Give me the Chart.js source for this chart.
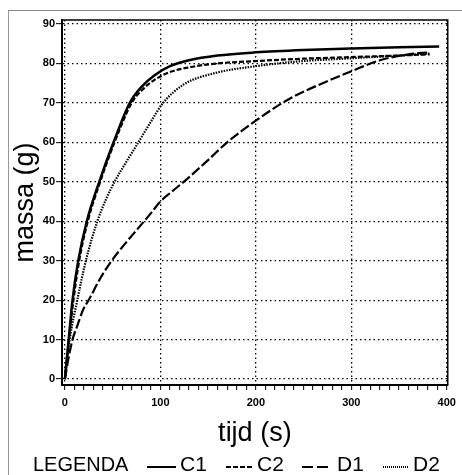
<!DOCTYPE html>
<html>
<head>
<meta charset="utf-8">
<script src="https://cdn.jsdelivr.net/npm/chart.js@4.4.1/dist/chart.umd.min.js"></script>
<style>
html,body{margin:0;padding:0;background:#fff}
#wrap{position:relative;width:462px;height:475px;overflow:hidden}
#frame{position:absolute;left:8px;top:10px;width:460px;height:470px;border-left:1px solid #999;border-top:1px solid #888}
canvas{position:absolute;left:0;top:0}
</style>
</head>
<body>
<div id="wrap"><div id="frame"></div><canvas id="chart" width="462" height="475"></canvas></div>
<script>
// Data (time in s, mass in g)
const seriesNames = ['C1', 'C2', 'D1', 'D2'];

const c1Time = [0, 2, 4, 8, 14, 23, 36, 51, 68, 80, 94, 110, 130, 160, 200, 250, 300, 350, 392];
const c1Mass = [0, 5, 10, 20, 30, 40, 50, 60, 70, 74, 77, 79.3, 80.8, 82, 82.8, 83.4, 83.8, 84.1, 84.3];

const c2Time = [0, 4, 9, 15, 24, 37, 52, 70, 82, 95, 110, 130, 160, 200, 250, 300, 350, 382];
const c2Mass = [0, 9.5, 20, 30, 40, 50, 60, 70, 73.5, 76, 77.8, 79, 80, 80.6, 81.2, 81.6, 82, 82.3];

const d1Time = [0, 4, 8, 13, 19, 26, 37, 49, 62, 76, 90, 100, 112, 126, 150, 170, 200, 235, 270, 300, 330, 360, 381];
const d1Mass = [0, 5.5, 10, 13.5, 17.5, 20.5, 25.5, 30, 34, 38, 42, 45, 47.5, 50.3, 55.5, 60, 65.5, 71, 75, 78, 80.8, 82.3, 82.8];

const d2Time = [0, 5, 13, 22, 34, 43, 52, 65, 77, 89, 103, 124, 158, 200, 245, 300, 350, 383];
const d2Mass = [0, 10, 20, 30, 40, 45.5, 50, 55.3, 60, 64.8, 70, 74.6, 77.6, 79.3, 80.5, 81.3, 82, 82.5];

const xTicks = [0, 100, 200, 300, 400];
const yTicks = [0, 10, 20, 30, 40, 50, 60, 70, 80, 90];

function pts(t, m){ return t.map((x, i) => ({x: x, y: m[i]})); }

const styles = [
  {dash: [], width: 2.5, legendDash: []},
  {dash: [5, 2], width: 2.2, legendDash: [5, 2]},
  {dash: [10, 3], width: 2.2, legendDash: [11, 4]},
  {dash: [1.5, 1.2], width: 2.2, legendDash: [1, 1]}
];
const allData = [pts(c1Time, c1Mass), pts(c2Time, c2Mass), pts(d1Time, d1Mass), pts(d2Time, d2Mass)];

const font = 'Liberation Sans, Arial, sans-serif';

// top + right frame
const framePlugin = {
  id: 'frame',
  afterDraw(chart){
    const {ctx, chartArea: a} = chart;
    ctx.save();
    ctx.strokeStyle = '#000';
    ctx.lineWidth = 1.5;
    ctx.beginPath();
    ctx.moveTo(a.left, a.top); ctx.lineTo(a.right, a.top); ctx.lineTo(a.right, a.bottom);
    ctx.stroke();
    ctx.restore();
  }
};

// legend row: LEGENDA —C1 ----C2 — —D1 ......D2
const legendPlugin = {
  id: 'legendRow',
  afterDraw(chart){
    const ctx = chart.ctx;
    const spots = [[147, 176, 180], [226, 254, 257], [302, 330, 337], [383, 409, 413]];
    ctx.save();
    ctx.fillStyle = '#000';
    ctx.strokeStyle = '#000';
    ctx.font = '21px ' + font;
    ctx.textBaseline = 'alphabetic';
    ctx.save();
    ctx.translate(33, 471);
    ctx.scale(0.95, 1);
    ctx.fillText('LEGENDA', 0, 0);
    ctx.restore();
    chart.data.datasets.forEach((ds, i) => {
      const s = spots[i];
      ctx.setLineDash(styles[i].legendDash);
      ctx.lineWidth = 2;
      ctx.beginPath(); ctx.moveTo(s[0], 467); ctx.lineTo(s[1], 467); ctx.stroke();
      ctx.setLineDash([]);
      ctx.fillText(ds.label, s[2], 471);
    });
    ctx.restore();
  }
};

new Chart(document.getElementById('chart'), {
  type: 'line',
  data: {
    datasets: seriesNames.map((n, i) => ({
      label: n,
      data: allData[i],
      borderColor: '#000',
      borderWidth: styles[i].width,
      borderDash: styles[i].dash,
      pointRadius: 0,
      fill: false,
      cubicInterpolationMode: 'monotone'
    }))
  },
  options: {
    responsive: false,
    animation: false,
    devicePixelRatio: 1,
    layout: {padding: {top: 20, right: 13, left: 0, bottom: 0}},
    plugins: {legend: {display: false}, tooltip: {enabled: false}},
    scales: {
      x: {
        type: 'linear', min: -3, max: 401,
        afterFit(s){ s.height = 90; },
        ticks: {
          stepSize: 10, autoSkip: false, maxRotation: 0, includeBounds: false,
          callback: v => xTicks.includes(v) ? String(v) : '',
          font: {family: font, size: 11, weight: 'bold'}, color: '#000', padding: 6
        },
        grid: {
          color: c => (c.tick && xTicks.includes(c.tick.value)) ? '#000' : 'rgba(0,0,0,0)',
          lineWidth: 1.3, tickLength: 5, tickColor: '#000', tickWidth: 1
        },
        border: {color: '#000', width: 2, dash: [1.5, 3]},
        title: {display: true, text: 'tijd (s)', color: '#000', font: {family: font, size: 27}, padding: {top: 0, bottom: 25}}
      },
      y: {
        type: 'linear', min: -1.5, max: 91,
        afterFit(s){ s.width = 62; },
        ticks: {
          stepSize: 10, includeBounds: false,
          callback: v => yTicks.includes(v) ? String(v) : '',
          font: {family: font, size: 11, weight: 'bold'}, color: '#000', padding: 1
        },
        grid: {color: '#000', lineWidth: 1.3, tickLength: 6, tickColor: '#000', tickWidth: 1},
        border: {color: '#000', width: 2, dash: [1.5, 3]},
        title: {display: true, text: 'massa (g)', color: '#000', font: {family: font, size: 27}, padding: {top: 9, bottom: 0}}
      }
    }
  },
  plugins: [framePlugin, legendPlugin]
});
</script>
</body>
</html>
